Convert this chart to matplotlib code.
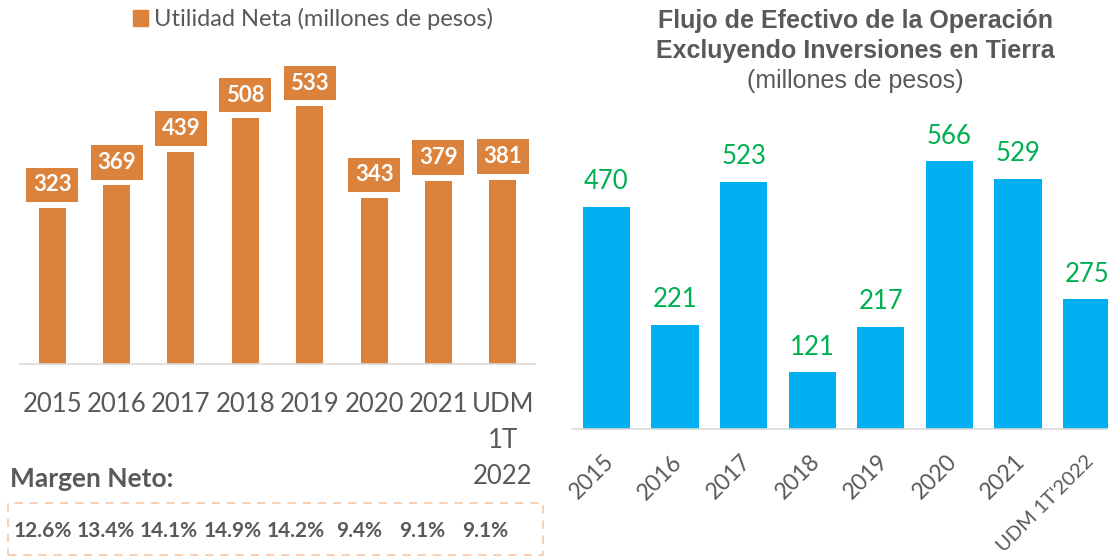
import matplotlib
matplotlib.use("Agg")
import matplotlib.pyplot as plt
from matplotlib.patches import Rectangle, Patch
import matplotlib.transforms as mtransforms

# ---- data ----
left_cats = ["2015", "2016", "2017", "2018", "2019", "2020", "2021", "UDM\n1T\n2022"]
utilidad = [323, 369, 439, 508, 533, 343, 379, 381]
margen = ["12.6%", "13.4%", "14.1%", "14.9%", "14.2%", "9.4%", "9.1%", "9.1%"]

right_cats = ["2015", "2016", "2017", "2018", "2019", "2020", "2021", "UDM 1T'2022"]
flujo = [470, 221, 523, 121, 217, 566, 529, 275]

ORANGE = "#DB833D"
BLUE = "#00B0F0"
GREEN = "#00B050"
GRAY = "#595959"
AXIS = "#D9D9D9"

W, H = 1108, 559
fig = plt.figure(figsize=(W / 100, H / 100), dpi=100)

def fr(left, top, right, bottom):
    return [left / W, 1 - bottom / H, (right - left) / W, (bottom - top) / H]

# ---- left chart ----
axl = fig.add_axes(fr(20, 60, 535, 364))
xl = range(len(left_cats))
axl.bar(xl, utilidad, width=0.42, color=ORANGE, label="Utilidad Neta (millones de pesos)")
axl.set_xlim(-0.5, len(left_cats) - 0.5)
axl.set_ylim(0, 304 / 0.484)
for s in ["top", "right", "left"]:
    axl.spines[s].set_visible(False)
axl.spines["bottom"].set_color(AXIS)
axl.spines["bottom"].set_linewidth(1.2)
axl.set_yticks([])
axl.set_xticks(list(xl))
axl.set_xticklabels(left_cats, fontsize=18.5, color=GRAY, family="Lato",
                    linespacing=1.55, ha="center", multialignment="center")
axl.tick_params(axis="x", length=0, pad=20)
for i, v in enumerate(utilidad):
    axl.annotate(str(v), (i, v), xytext=(0, 9), textcoords="offset points",
                 ha="center", va="bottom", fontsize=16, fontweight="bold",
                 color="white", family="Lato",
                 bbox=dict(boxstyle="square,pad=0.3", fc=ORANGE, ec="none"))

axl.legend(handles=[Patch(color=ORANGE)], labels=["Utilidad Neta (millones de pesos)"],
           loc="center", bbox_to_anchor=(313 / W, 1 - 19 / H), bbox_transform=fig.transFigure,
           frameon=False, handlelength=0.65, handleheight=0.65, handletextpad=0.25,
           prop=dict(family="Lato", size=17), labelcolor=GRAY)

fig.text(10 / W, 1 - 479 / H, "Margen Neto:", fontsize=19, fontweight="bold",
         color=GRAY, family="Lato", ha="left", va="center")
fig.add_artist(Rectangle((8 / W, 1 - 555 / H), 535 / W, 52 / H, transform=fig.transFigure,
                         fill=False, ec="#F8CBAD", lw=1.3, ls=(0, (4.6, 3.8))))
ytxt = mtransforms.blended_transform_factory(axl.transData, fig.transFigure)
for i, m in enumerate(margen):
    axl.text(i * 0.983 - 0.15, 1 - 531 / H, m, transform=ytxt, ha="center", va="center",
             fontsize=15, fontweight="bold", color=GRAY, family="Lato", clip_on=False)

# ---- right chart ----
axr = fig.add_axes(fr(572, 130, 1121, 429.3))
xr = range(len(right_cats))
axr.bar(xr, flujo, width=0.69, color=BLUE)
axr.set_xlim(-0.5, len(right_cats) - 0.5)
axr.set_ylim(0, 299.3 / 0.4735)
for s in ["top", "right", "left"]:
    axr.spines[s].set_visible(False)
axr.spines["bottom"].set_color(AXIS)
axr.spines["bottom"].set_linewidth(1.2)
axr.set_yticks([])
axr.set_xticks(list(xr))
axr.set_xticklabels(right_cats, fontsize=16.5, color=GRAY, family="Lato",
                    rotation=45, ha="right", va="center", rotation_mode="anchor")
axr.tick_params(axis="x", length=0, pad=21)
off = mtransforms.ScaledTranslation(4 / 100, 0, fig.dpi_scale_trans)
for lab in axr.get_xticklabels():
    lab.set_transform(lab.get_transform() + off)
axr.get_xticklabels()[-1].set_fontsize(14.5)
for i, v in enumerate(flujo):
    axr.annotate(str(v), (i, v), xytext=(0, 9), textcoords="offset points",
                 ha="center", va="bottom", fontsize=18.5, color=GREEN, family="Lato")

fig.text(855 / W, 1 - 21 / H, "Flujo de Efectivo de la Operación", fontsize=18,
         fontweight="bold", color=GRAY, family="Liberation Sans", ha="center", va="center")
fig.text(855 / W, 1 - 51 / H, "Excluyendo Inversiones en Tierra", fontsize=18,
         fontweight="bold", color=GRAY, family="Liberation Sans", ha="center", va="center")
fig.text(855 / W, 1 - 81 / H, "(millones de pesos)", fontsize=18,
         color=GRAY, family="Liberation Sans", ha="center", va="center")

fig.savefig("out.png", dpi=100)
